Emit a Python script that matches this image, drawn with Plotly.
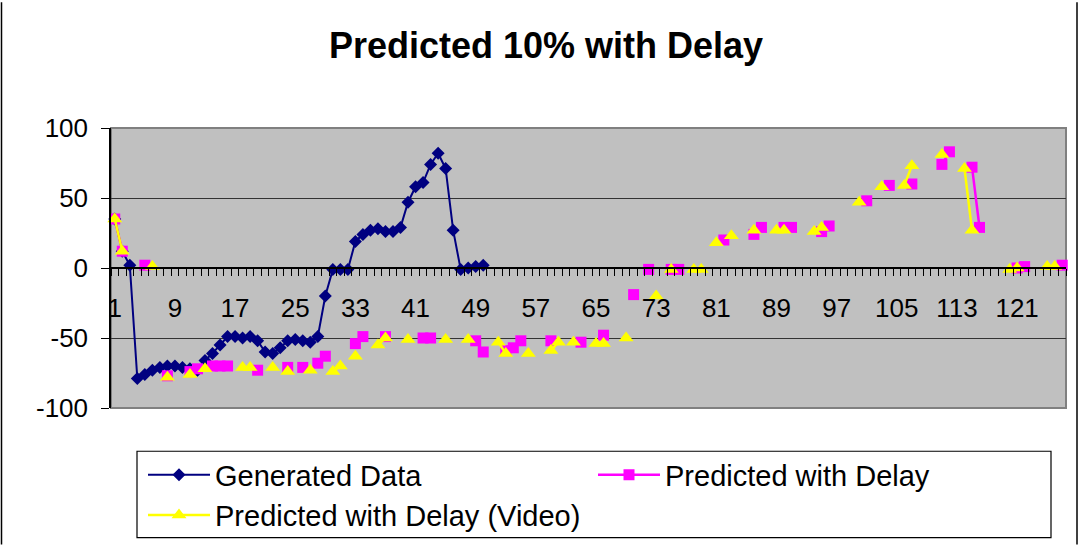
import plotly.graph_objects as go

# ---- data -------------------------------------------------------------
n_points = 127
categories = list(range(1, n_points + 1))
tick_labels = [str(c) for c in range(1, 122, 8)]

generated_vals = [35, 12, 2, -79, -76, -73, -71, -70, -70, -71,
                  -72, -73, -66, -61, -55, -49, -49, -50, -49, -52,
                  -60, -61, -57, -52, -51, -52, -53, -49, -20, -1,
                  -1, -1, 19, 24, 27, 28, 26, 26, 29, 47,
                  58, 61, 74, 82, 71, 27, -1, 0, 1, 2]

pred_cats = [1, 2, 5, 8, 11, 12, 14, 15, 16, 20,
             24, 26, 28, 29, 33, 34, 37, 42, 43, 49,
             50, 53, 54, 55, 59, 63, 66, 70, 72, 75,
             76, 82, 86, 87, 90, 91, 95, 96, 101, 104,
             107, 111, 112, 115, 116, 121, 122, 127]
pred_vals = [35, 12, 2, -77, -74, -72, -70, -70, -70, -73,
             -71, -71, -68, -63, -54, -49, -49, -50, -50, -52,
             -60, -59, -57, -52, -52, -53, -48, -19, -1, -1,
             -1, 20, 24, 29, 29, 29, 26, 30, 48, 59,
             60, 74, 83, 72, 29, 0, 1, 2]

video_cats = [1, 2, 6, 8, 11, 13, 18, 19, 22, 24,
              27, 30, 31, 33, 36, 37, 40, 45, 48, 52,
              53, 56, 59, 60, 62, 65, 66, 69, 73, 75,
              78, 79, 81, 83, 86, 89, 90, 94, 95, 100,
              103, 106, 107, 111, 114, 115, 120, 121, 125, 126]
video_vals = [35, 12, 1, -78, -76, -72, -71, -71, -71, -74,
              -73, -74, -70, -63, -55, -50, -51, -51, -51, -53,
              -61, -61, -59, -53, -53, -54, -54, -50, -20, -1,
              -1, -1, 18, 23, 27, 27, 27, 26, 29, 47,
              58, 59, 73, 81, 71, 27, -1, 0, 1, 1]

y_ticks = [-100, -50, 0, 50, 100]
y_tick_text = ["-100", "-50", "0", "50", "100"]


def spread(cats, vals):
    """Place sparse values on the full category axis, leaving gaps as None."""
    lookup = dict(zip(cats, vals))
    return [lookup.get(c) for c in categories]


gen_full = generated_vals + [None] * (n_points - len(generated_vals))
pred_full = spread(pred_cats, pred_vals)
video_full = spread(video_cats, video_vals)

FONT = "Liberation Sans, Arial, sans-serif"
W, H = 1081, 552
ML, MR, MT, MB = 111, 15, 128, 139
PW, PH = W - ML - MR, H - MT - MB


def px_x(x):
    return (x - ML) / PW


def px_y(y):
    return (H - MB - y) / PH


fig = go.Figure()

fig.add_trace(go.Scatter(
    x=categories, y=gen_full, name="Generated Data", mode="lines+markers",
    line=dict(color="#000080", width=2),
    marker=dict(symbol="diamond", size=10, color="#000080"),
    cliponaxis=False, legend="legend"))

fig.add_trace(go.Scatter(
    x=categories, y=pred_full, name="Predicted with Delay", mode="lines+markers",
    line=dict(color="#FF00FF", width=2.5),
    marker=dict(symbol="square", size=11, color="#FF00FF"),
    cliponaxis=False, legend="legend2"))

fig.add_trace(go.Scatter(
    x=categories, y=video_full, name="Predicted with Delay (Video)",
    mode="lines+markers",
    line=dict(color="#FFFF00", width=2.5),
    marker=dict(symbol="triangle-up", size=13, color="#FFFF00"),
    cliponaxis=False, legend="legend3"))

legend_common = dict(orientation="h", xanchor="left", yanchor="middle",
                     bgcolor="rgba(0,0,0,0)", borderwidth=0, itemwidth=62,
                     font=dict(family=FONT, size=29, color="#000000"))

fig.update_layout(
    width=W, height=H,
    margin=dict(l=ML, r=MR, t=MT, b=MB),
    paper_bgcolor="#FFFFFF",
    plot_bgcolor="#C0C0C0",
    font=dict(family=FONT, color="#000000"),
    title=dict(text="<b>Predicted 10% with Delay</b>", x=546 / W, xanchor="center",
               xref="container", y=1 - 45 / H, yanchor="middle", yref="container",
               font=dict(family=FONT, size=36, color="#000000")),
    xaxis=dict(type="linear", range=[0.5, n_points + 0.5],
               anchor="free", position=0.5,
               tickvals=list(range(1, 122, 8)), ticktext=tick_labels,
               ticks="outside", ticklen=8, tickcolor="rgba(0,0,0,0)",
               ticklabelstandoff=9,
               tickfont=dict(family=FONT, size=26, color="#000000"),
               minor=dict(tickvals=[c - 0.5 for c in categories] + [n_points + 0.5],
                          ticks="outside", ticklen=7, tickcolor="#000000",
                          tickwidth=1, showgrid=False),
               showline=True, linecolor="#000000", linewidth=1.5,
               showgrid=False, zeroline=False, fixedrange=True),
    yaxis=dict(range=[-100, 100], tickvals=y_ticks, ticktext=y_tick_text,
               ticks="outside", ticklen=8, tickcolor="#000000", tickwidth=1,
               ticklabelstandoff=8,
               tickfont=dict(family=FONT, size=26, color="#000000"),
               showline=True, linecolor="#000000", linewidth=1.5,
               showgrid=True, gridcolor="#333333", gridwidth=1.2,
               zeroline=False, fixedrange=True),
    showlegend=True,
    legend=dict(legend_common, x=px_x(143), y=px_y(481)),
    legend2=dict(legend_common, x=px_x(593), y=px_y(481)),
    legend3=dict(legend_common, x=px_x(143), y=px_y(522)),
    shapes=[
        # plot area frame
        dict(type="rect", xref="paper", yref="paper", x0=0, x1=1, y0=0, y1=1,
             line=dict(color="#808080", width=2), layer="below"),
        # legend box
        dict(type="rect", xref="paper", yref="paper",
             x0=px_x(137), x1=px_x(1051), y0=px_y(545), y1=px_y(457),
             line=dict(color="#000000", width=1.2), fillcolor="#FFFFFF"),
        # chart area edges
        dict(type="line", xref="paper", yref="paper",
             x0=px_x(1.5), x1=px_x(1.5), y0=px_y(H), y1=px_y(0),
             line=dict(color="#000000", width=1.5)),
        dict(type="line", xref="paper", yref="paper",
             x0=px_x(1077), x1=px_x(1077), y0=px_y(H), y1=px_y(0),
             line=dict(color="#000000", width=1.5)),
    ],
)

fig.write_html("out.html")
